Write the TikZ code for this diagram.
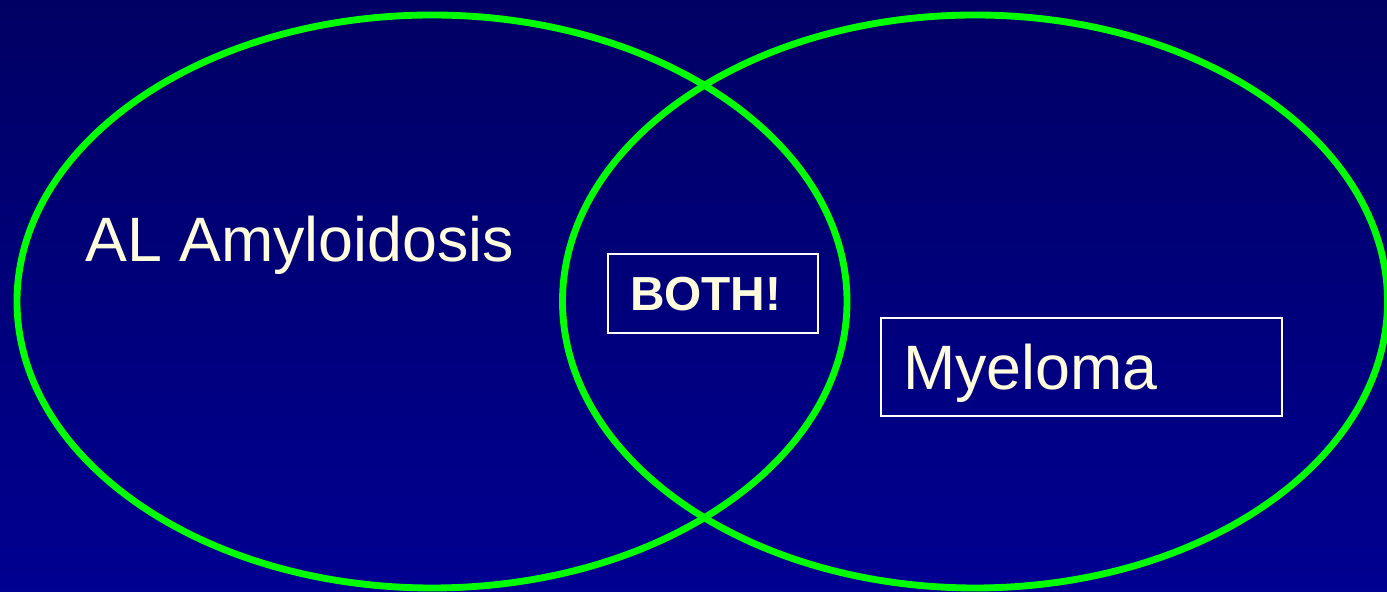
\documentclass[tikz,border=0pt]{standalone}
\usepackage{fontspec}
\setmainfont{Liberation Sans}
\definecolor{SlideTop}{RGB}{0,0,100}
\definecolor{SlideBottom}{RGB}{0,0,145}
\definecolor{VennGreen}{RGB}{0,255,0}
\definecolor{CreamText}{RGB}{255,252,222}
\usepackage{tikz}
\usetikzlibrary{positioning}

\begin{document}
\begin{tikzpicture}[
    vennline/.style={VennGreen, line width=3.9pt},
    labeltext/.style={CreamText, inner sep=0pt, font=\fontsize{35.7pt}{40pt}\selectfont},
    labelbox/.style={draw=white, line width=1.1pt, align=left, inner ysep=0pt, text depth=0pt}
  ]

  % Slide background
  \shade[top color=SlideTop, bottom color=SlideBottom]
        (0,0) rectangle (27.74,11.84);
  \useasboundingbox (0,0) rectangle (27.74,11.84);

  % Two overlapping circles
  \draw[vennline] (8.64,5.81) ellipse [x radius=8.30, y radius=5.73];
  \draw[vennline] (19.50,5.81) ellipse [x radius=8.25, y radius=5.73];

  % Left set
  \node[labeltext, anchor=base west] (amyloid)
        at (1.70,6.60) {AL Amyloidosis};

  % Overlap
  \node[labelbox, text=CreamText, inner xsep=0.44cm,
        text width=3.32cm, minimum height=1.58cm,
        font=\fontsize{27.2pt}{30pt}\selectfont\bfseries] (both)
        at (14.26,5.97) {BOTH!};

  % Right set
  \node[labelbox, text=CreamText, inner xsep=0.44cm,
        text width=7.14cm, minimum height=1.96cm,
        font=\fontsize{35.7pt}{40pt}\selectfont] (myeloma)
        at (21.63,4.50) {Myeloma};

\end{tikzpicture}
\end{document}
